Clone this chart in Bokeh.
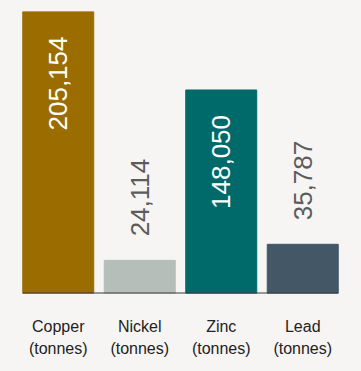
from math import pi
from bokeh.plotting import figure
from bokeh.models import ColumnDataSource, Range1d, FixedTicker, LinearAxis
from bokeh.core.properties import value
from bokeh.embed import file_html
from bokeh.resources import INLINE

categories = ["Copper", "Nickel", "Zinc", "Lead"]
unit_label = "(tonnes)"
values = [205154, 24114, 148050, 35787]
colors = ["#9b6d00", "#b5beb9", "#006a6a", "#435767"]

BG = "#f6f5f4"
FONT = "Liberation Sans"
BAR_W = 0.871

xs = list(range(len(categories)))
labels = [f"{v:,}" for v in values]
inside = [v > max(values) / 2 for v in values]

src = ColumnDataSource(dict(x=xs, top=values, color=colors, label=labels))
src_in = ColumnDataSource(dict(
    x=[x for x, i in zip(xs, inside) if i],
    y=[v for v, i in zip(values, inside) if i],
    t=[l for l, i in zip(labels, inside) if i]))
src_out = ColumnDataSource(dict(
    x=[x for x, i in zip(xs, inside) if not i],
    y=[v for v, i in zip(values, inside) if not i],
    t=[l for l, i in zip(labels, inside) if not i]))

p = figure(width=345, height=355, output_backend="svg", toolbar_location=None,
           x_range=Range1d(-0.5, len(categories) - 0.5),
           y_range=Range1d(0, max(values)),
           min_border_left=9, min_border_right=10, min_border_top=3,
           min_border_bottom=70, x_axis_location=None, y_axis_location=None)
p.background_fill_color = BG
p.border_fill_color = BG
p.outline_line_color = None
p.grid.visible = False

p.vbar(x="x", top="top", bottom=0, width=BAR_W, color="color", source=src)

p.segment(x0=[xs[0] - BAR_W / 2], x1=[xs[-1] + BAR_W / 2], y0=[0], y1=[0],
          line_color="#3a3a3a", line_width=2)

p.text(x="x", y="y", text="t", source=src_in, angle=pi / 2,
       text_align="right", text_baseline="middle", y_offset=25,
       text_color="white", text_font=value(FONT), text_font_size="26px")
p.text(x="x", y="y", text="t", source=src_out, angle=pi / 2,
       text_align="left", text_baseline="middle", y_offset=-24,
       text_color="#5c5c5c", text_font=value(FONT), text_font_size="26px")

def cat_axis(texts, standoff):
    ax = LinearAxis(ticker=FixedTicker(ticks=xs),
                    major_label_overrides={x: t for x, t in zip(xs, texts)})
    ax.axis_line_color = None
    ax.major_tick_line_color = None
    ax.minor_tick_line_color = None
    ax.major_tick_in = 0
    ax.major_tick_out = 0
    ax.major_label_standoff = standoff
    ax.major_label_text_font = FONT
    ax.major_label_text_font_size = "16px"
    ax.major_label_text_color = "#222222"
    return ax

p.add_layout(cat_axis(categories, 24), "below")
p.add_layout(cat_axis([unit_label] * len(categories), 2), "below")

html = file_html(p, INLINE)
style = ("<style>html{background:%s !important;} "
         "body{padding:8px !important;margin:0 !important;"
         "box-sizing:border-box !important;background:%s !important;}</style>"
         % (BG, BG))
html = html.replace("</head>", style + "</head>", 1)
open("out.html", "w").write(html)
